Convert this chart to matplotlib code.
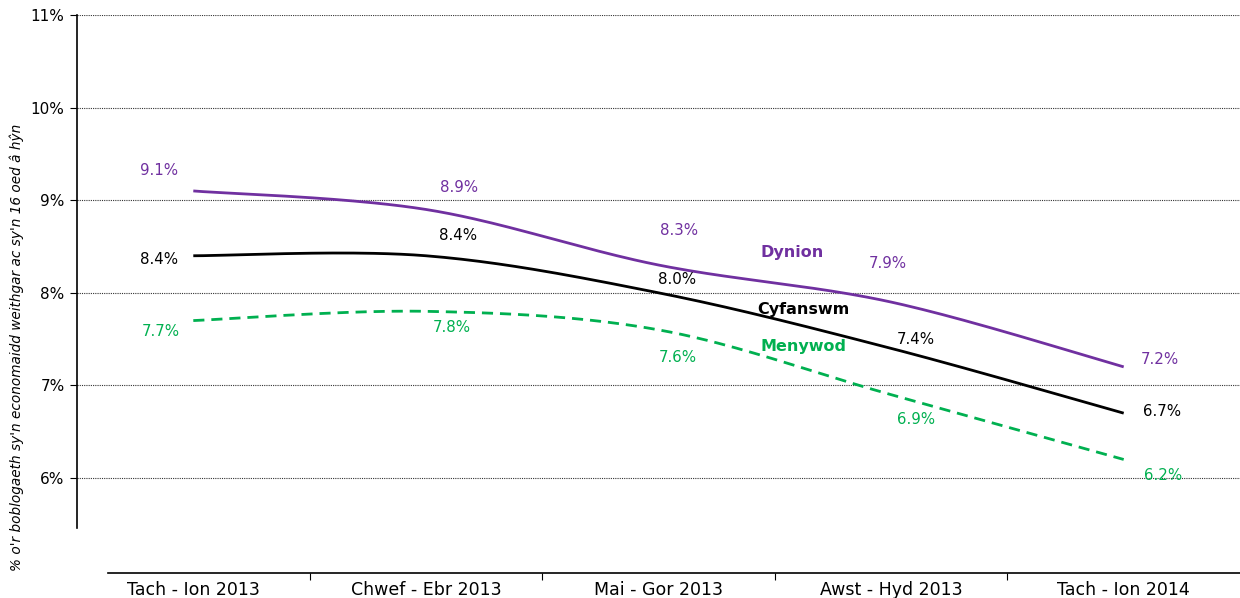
"""
Economically active population share, Welsh line chart with smoothed series.
"""
import matplotlib
matplotlib.use("Agg")
import matplotlib.pyplot as plt
import numpy as np

categories = ["Tach - Ion 2013", "Chwef - Ebr 2013", "Mai - Gor 2013",
              "Awst - Hyd 2013", "Tach - Ion 2014"]
dynion = [9.1, 8.9, 8.3, 7.9, 7.2]
cyfanswm = [8.4, 8.4, 8.0, 7.4, 6.7]
menywod = [7.7, 7.8, 7.6, 6.9, 6.2]
y_ticks = [6, 7, 8, 9, 10, 11]

PURPLE = "#7030A0"
GREEN = "#00B050"
BLACK = "#000000"

# label offsets in pixels (dx, dy) per point
OFF_DYN = [(-34, 20), (33, 22), (21, 35), (-3, 39), (36, 7)]
OFF_CYF = [(-34, -4), (32, 20), (19, 13), (25, 9), (38, 2)]
OFF_MEN = [(-32, -11), (26, -16), (19, -28), (25, -25), (39, -16)]


def smooth(xs, ys, n=40):
    """Excel-style bezier smoothing through the points."""
    p = np.column_stack([xs, ys]).astype(float)
    out = []
    for i in range(len(p) - 1):
        p0 = p[max(i - 1, 0)]
        p1, p2 = p[i], p[i + 1]
        p3 = p[min(i + 2, len(p) - 1)]
        c1 = p1 + (p2 - p0) / 6.0
        c2 = p2 - (p3 - p1) / 6.0
        t = np.linspace(0, 1, n)[:, None]
        seg = ((1 - t) ** 3) * p1 + 3 * ((1 - t) ** 2) * t * c1 \
            + 3 * (1 - t) * t ** 2 * c2 + t ** 3 * p2
        out.append(seg if i == 0 else seg[1:])
    pts = np.vstack(out)
    return pts[:, 0], pts[:, 1]


plt.rcParams["font.family"] = ["DejaVu Sans"]

fig = plt.figure(figsize=(12.4, 5.98), dpi=100)
ax = fig.add_axes([77 / 1240, 1 - 528 / 598, 1 - 77 / 1240, (528 - 15) / 598])

x = np.arange(len(categories))
series = [
    (dynion, PURPLE, "-", OFF_DYN),
    (cyfanswm, BLACK, "-", OFF_CYF),
    (menywod, GREEN, (0, (4, 2.5)), OFF_MEN),
]
for vals, col, ls, offs in series:
    sx, sy = smooth(x, vals)
    ax.plot(sx, sy, color=col, lw=2, ls=ls, solid_capstyle="butt", zorder=3)
    for xi, v, (dx, dy) in zip(x, vals, offs):
        ax.annotate(f"{v:.1f}%", (xi, v), xytext=(dx * 0.72, dy * 0.72),
                    textcoords="offset points", ha="center", va="center",
                    color=col, fontsize=10.8)

ax.text(2.574, 8.43, "Dynion", color=PURPLE, fontsize=11.5,
        fontweight="bold", ha="center", va="center")
ax.text(2.625, 7.825, "Cyfanswm", color=BLACK, fontsize=11.5,
        fontweight="bold", ha="center", va="center")
ax.text(2.625, 7.415, "Menywod", color=GREEN, fontsize=11.5,
        fontweight="bold", ha="center", va="center")

ax.set_xlim(-0.5, 4.5)
ax.set_ylim(5.46, 11)
ax.set_yticks(y_ticks)
ax.set_yticklabels([f"{t}%" for t in y_ticks])
ax.yaxis.grid(True, ls=(0, (1, 1)), color="#333333", lw=0.8)
ax.set_axisbelow(True)
ax.tick_params(axis="y", length=5, width=0.8, pad=4, labelsize=11)

ax.set_xticks(x)
ax.set_xticklabels(categories)
ax.set_xticks([0.5, 1.5, 2.5, 3.5], minor=True)
ax.tick_params(axis="x", which="major", length=0, pad=6, labelsize=12.5)
ax.tick_params(axis="x", which="minor", length=5, width=0.8)

for s in ["top", "right"]:
    ax.spines[s].set_visible(False)
ax.spines["left"].set_linewidth(1.2)
ax.spines["bottom"].set_position(("outward", 45 * 0.72))
ax.spines["bottom"].set_bounds(-0.365, 4.5)
ax.spines["bottom"].set_linewidth(1.2)

fig.text(17 / 1240, 1 - 347 / 598,
         "% o'r boblogaeth sy'n economaidd weithgar ac sy'n 16 oed â hŷn",
         rotation=90, ha="center", va="center", fontsize=9.8, style="italic")

fig.savefig("out.png", dpi=100)
